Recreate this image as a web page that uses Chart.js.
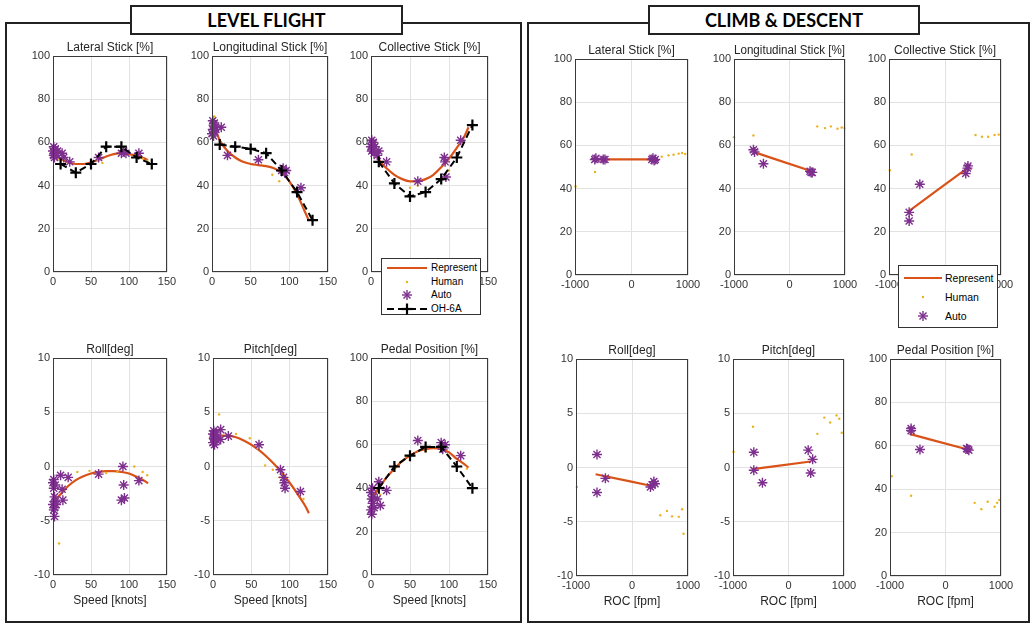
<!DOCTYPE html>
<html>
<head>
<meta charset="utf-8">
<script src="https://cdn.jsdelivr.net/npm/chart.js@4.4.1/dist/chart.umd.min.js"></script>
<style>
  body { margin: 0; background: #fff; width: 1034px; height: 624px; position: relative; overflow: hidden; font-family: "Liberation Sans", Arial, sans-serif; }
  .panel { position: absolute; border: 2px solid #222; box-sizing: border-box; }
  .ptitle { position: absolute; border: 2px solid #222; background: #fff; box-sizing: border-box; font-family: Lato, "Open Sans", sans-serif; font-weight: bold; font-size: 18px; text-align: center; line-height: 26px; color: #000; z-index: 3; }
  .plot { position: absolute; }
  .legend { position: absolute; background: #fff; border: 1px solid #333; box-sizing: border-box; z-index: 4; font-size: 10px; color: #000; }
  .legend .row { position: absolute; left: 0; right: 0; height: 14px; }
  .legend svg { position: absolute; left: 4px; top: 0; }
  .legend span { position: absolute; top: 1px; }
</style>
</head>
<body>
<div class="panel" style="left:5px;top:22px;width:517px;height:601px"></div>
<div class="panel" style="left:527px;top:22px;width:503px;height:601px"></div>
<div class="ptitle" style="left:130px;top:5px;width:273px;height:30px">LEVEL FLIGHT</div>
<div class="ptitle" style="left:648px;top:5px;width:272px;height:30px">CLIMB &amp; DESCENT</div>

<div class="legend" style="left:381px;top:258px;width:100px;height:57px">
  <div class="row" style="top:2px"><svg width="42" height="14"><line x1="1" y1="7" x2="41" y2="7" stroke="#D95319" stroke-width="2"/></svg><span style="left:49px">Represent</span></div>
  <div class="row" style="top:16px"><svg width="42" height="14"><circle cx="21" cy="7" r="1.2" fill="#EDB120"/></svg><span style="left:49px">Human</span></div>
  <div class="row" style="top:29px"><svg width="42" height="14"><g stroke="#7E2F8E" stroke-width="1.4"><line x1="16" y1="7" x2="26" y2="7"/><line x1="21" y1="2" x2="21" y2="12"/><line x1="17.5" y1="3.5" x2="24.5" y2="10.5"/><line x1="17.5" y1="10.5" x2="24.5" y2="3.5"/></g></svg><span style="left:49px">Auto</span></div>
  <div class="row" style="top:43px"><svg width="42" height="14"><line x1="1" y1="7" x2="41" y2="7" stroke="#000" stroke-width="2" stroke-dasharray="7 4"/><g stroke="#000" stroke-width="2.2"><line x1="15.5" y1="7" x2="26.5" y2="7"/><line x1="21" y1="1.5" x2="21" y2="12.5"/></g></svg><span style="left:49px">OH-6A</span></div>
</div>

<div class="legend" style="left:898px;top:265px;width:100px;height:63px;font-size:10.5px">
  <div class="row" style="top:5px"><svg width="42" height="14"><line x1="1" y1="7" x2="39" y2="7" stroke="#D95319" stroke-width="2"/></svg><span style="left:46px">Represent</span></div>
  <div class="row" style="top:24px"><svg width="42" height="14"><circle cx="20" cy="7" r="1.2" fill="#EDB120"/></svg><span style="left:46px">Human</span></div>
  <div class="row" style="top:43px"><svg width="42" height="14"><g stroke="#7E2F8E" stroke-width="1.4"><line x1="15" y1="7" x2="25" y2="7"/><line x1="20" y1="2" x2="20" y2="12"/><line x1="16.5" y1="3.5" x2="23.5" y2="10.5"/><line x1="16.5" y1="10.5" x2="23.5" y2="3.5"/></g></svg><span style="left:46px">Auto</span></div>
</div>

<script>
// ---- level flight: OH-6A flight test
const speedOH = [10, 30, 50, 70, 90, 110, 130];
const latOH = [50, 46, 50, 58, 58, 53, 50];
const lonOH = [59, 58, 57, 55, 47, 37, 24];
const colOH = [51, 41, 35, 37, 43, 53, 68];
const pedOH = [40, 50, 55, 59, 59, 50, 40];

// ---- level flight: represent fits
const speedFit = [0, 10, 20, 30, 40, 50, 60, 70, 80, 90, 100, 110, 120, 125];
const latRep = [55, 52.5, 50.8, 50, 50, 50.8, 52, 53.5, 54.6, 55, 54.6, 53.8, 52.6, 51.8];
const lonRep = [71, 61, 56, 53, 51, 50, 49.5, 49, 48, 46, 42, 36, 28, 24];
const colRep = [60, 52, 48, 45, 43, 42, 42, 43, 45, 48.5, 52.5, 57.5, 63, 67];
const rollRep = [-3.2, -2.55, -1.8, -1.25, -0.9, -0.65, -0.5, -0.42, -0.42, -0.5, -0.65, -0.95, -1.3, -1.55];
const pitchRep = [2.7, 2.85, 2.85, 2.7, 2.4, 2.0, 1.5, 0.9, 0.2, -0.6, -1.5, -2.5, -3.6, -4.3];
const pedRep = [35, 40, 45, 49, 52.5, 55, 57, 58, 58.5, 58, 56.5, 53.5, 51, 49.5];

// ---- level flight: auto pilot runs
const latAutoX = [0, 1, 1, 2, 2, 3, 4, 5, 6, 12, 14, 22, 60, 90, 93, 96, 113];
const latAutoY = [56, 58, 54, 55, 53, 57, 55, 54, 56, 55, 53, 51, 53, 55, 56, 55, 55];
const lonAutoX = [0, 1, 1, 2, 2, 3, 3, 4, 5, 12, 20, 60, 90, 92, 94, 96, 115];
const lonAutoY = [64, 70, 66, 68, 63, 69, 65, 67, 66, 67, 54, 52, 47, 48, 46, 47, 39];
const colAutoX = [0, 1, 1, 2, 2, 3, 4, 5, 8, 10, 20, 60, 94, 95, 96, 115];
const colAutoY = [58, 61, 56, 59, 57, 60, 55, 58, 54, 56, 51, 42, 53, 51, 44, 61];
const rollAutoX = [0, 0, 1, 1, 1, 2, 2, 2, 3, 3, 4, 10, 12, 13, 20, 60, 90, 92, 93, 94, 113];
const rollAutoY = [-1.5, -3.5, -2, -4, -1.2, -2.8, -3.8, -4.6, -3.2, -1.7, -3.5, -0.8, -2.1, -3.1, -1, -0.7, -3.1, 0, -1.7, -2.9, -1.3];
const pitchAutoX = [0, 0, 1, 1, 2, 2, 3, 3, 4, 5, 10, 10, 20, 60, 88, 92, 93, 94, 114];
const pitchAutoY = [2.2, 3, 2.6, 3.3, 2, 2.9, 2.5, 3.1, 2.7, 2.4, 3.4, 2.5, 2.8, 2, -0.3, -1, -1.5, -2, -2.3];
const pedAutoX = [0, 0, 1, 1, 2, 2, 3, 4, 8, 10, 12, 20, 60, 90, 92, 95, 115];
const pedAutoY = [30, 38, 28, 35, 33, 40, 36, 31, 35, 43, 32, 39, 62, 61, 58, 60, 55];

// ---- level flight: human pilot runs
const latHumX = [2, 6, 20, 58, 65, 100, 118, 124];
const latHumY = [53, 52, 51, 52, 50.5, 55, 52.5, 51.5];
const lonHumX = [3, 78, 87, 96, 120];
const lonHumY = [72, 45, 42, 46, 30];
const colHumX = [5, 50, 60, 100, 118];
const colHumY = [57, 39, 40, 47, 60];
const rollHumX = [8, 32, 48, 70, 85, 107, 118, 124];
const rollHumY = [-7.1, -0.5, -0.4, -0.6, -0.5, 0, -0.5, -0.8];
const pitchHumX = [8, 30, 48, 58, 68, 78, 87, 118];
const pitchHumY = [4.8, 3, 2.6, 1.7, 0.1, -0.3, -1, -3];
const pedHumX = [12, 50, 70, 100, 123];
const pedHumY = [37, 54, 57, 55, 49];

// ---- climb & descent: represent fits
const rocFit = [-650, 400];
const latCDRep = [53.5, 53.5];
const lonCDRep = [57, 48];
const colCDRep = [29.5, 49.5];
const rollCDRep = [-0.62, -1.75];
const pitchCDRep = [-0.15, 0.55];
const pedCDRep = [65.5, 58.3];

// ---- climb & descent: auto pilot runs
const latCDAutoX = [-650, -630, -500, -470, 360, 380, 400, 420];
const latCDAutoY = [53.5, 54, 53.5, 53.5, 53.5, 54, 53, 53.5];
const lonCDAutoX = [-650, -630, -470, 370, 390, 410];
const lonCDAutoY = [58, 57, 51.5, 48, 47.5, 47.5];
const colCDAutoX = [-640, -640, -450, 370, 400, 410];
const colCDAutoY = [29, 25, 42, 47, 49.5, 50.5];
const rollCDAutoX = [-625, -625, -475, 330, 360, 390, 410];
const rollCDAutoY = [1.2, -2.3, -1, -1.8, -1.6, -1.3, -1.5];
const pitchCDAutoX = [-625, -625, -470, 355, 400, 435];
const pitchCDAutoY = [1.4, -0.25, -1.4, 1.6, -0.5, 0.75];
const pedCDAutoX = [-620, -620, -460, 380, 400, 420];
const pedCDAutoY = [67, 68, 58.3, 58.7, 58.5, 58];

// ---- climb & descent: human pilot runs
const latCDHumX = [-990, -645, 535, 655, 745, 835, 895, 950];
const latCDHumY = [41, 47.7, 54.8, 55.4, 55.7, 56.2, 56.5, 56];
const lonCDHumX = [-1000, -650, 500, 640, 745, 865, 940, 990];
const lonCDHumY = [63.8, 64.6, 68.8, 68, 68.8, 67.7, 68.3, 68];
const colCDHumX = [-985, -595, 545, 660, 770, 885, 960];
const colCDHumY = [48.5, 55.8, 64.8, 64, 64, 64.8, 65];
const rollCDHumX = [-985, 505, 625, 715, 835, 895, 920];
const rollCDHumY = [-1.8, -4.4, -4, -4.5, -4.55, -3.85, -6.1];
const pitchCDHumX = [-990, -640, 520, 645, 750, 865, 915, 960];
const pitchCDHumY = [1.45, 3.75, 3.1, 4.6, 4.15, 4.8, 4.5, 3.2];
const pedCDHumX = [-970, -620, 525, 645, 760, 885, 930, 970];
const pedCDHumY = [46, 37, 33.7, 30.8, 34.2, 31.9, 33.7, 35];

const FONT = '"Liberation Sans", Arial, sans-serif';
const Y_W = 34, TITLE_H = 20, RIGHT_PAD = 16;

function pts(xs, ys) {
  return xs.map((x, i) => ({ x: x, y: ys[i] }));
}

// markers are not clipped at the axes edge (matlab style)
function ohSet(ys) {
  return { label: 'OH-6A', data: pts(speedOH, ys), showLine: true, borderColor: '#000', borderWidth: 2, clip: false,
    borderDash: [7, 4], pointStyle: 'cross', pointRadius: 5.5, pointBorderWidth: 2.2, pointBorderColor: '#000' };
}
function autoSet(xs, ys) {
  return { label: 'Auto', data: pts(xs, ys), pointStyle: 'star', pointRadius: 5, pointBorderWidth: 1.4, clip: false,
    pointBorderColor: '#7E2F8E', borderColor: '#7E2F8E', backgroundColor: '#7E2F8E' };
}
function humanSet(xs, ys) {
  return { label: 'Human', data: pts(xs, ys), pointStyle: 'circle', pointRadius: 1.2, pointBorderWidth: 0, clip: false,
    backgroundColor: '#EDB120', borderColor: '#EDB120' };
}
function repSet(xs, ys) {
  return { label: 'Represent', data: pts(xs, ys), showLine: true, borderColor: '#D95319', borderWidth: 2.2,
    pointRadius: 0, cubicInterpolationMode: 'monotone' };
}

// box around each axes, like matlab "box on"
const frame = {
  id: 'frame',
  afterDatasetsDraw(chart) {
    const a = chart.chartArea, ctx = chart.ctx;
    ctx.save();
    ctx.strokeStyle = '#3a3a3a';
    ctx.lineWidth = 1;
    ctx.strokeRect(Math.round(a.left) + 0.5, Math.round(a.top) + 0.5, Math.round(a.width) - 1, Math.round(a.height) - 1);
    ctx.restore();
  }
};

const plots = [
  { box: [53, 56, 114, 216], title: 'Lateral Stick [%]', roc: false, y: [0, 100, 20],
    sets: [ohSet(latOH), autoSet(latAutoX, latAutoY), humanSet(latHumX, latHumY), repSet(speedFit, latRep)] },
  { box: [212, 56, 116, 216], title: 'Longitudinal Stick [%]', roc: false, y: [0, 100, 20],
    sets: [ohSet(lonOH), autoSet(lonAutoX, lonAutoY), humanSet(lonHumX, lonHumY), repSet(speedFit, lonRep)] },
  { box: [371, 56, 117, 216], title: 'Collective Stick [%]', roc: false, y: [0, 100, 20],
    sets: [ohSet(colOH), autoSet(colAutoX, colAutoY), humanSet(colHumX, colHumY), repSet(speedFit, colRep)] },
  { box: [53, 358, 114, 217], title: 'Roll[deg]', roc: false, y: [-10, 10, 5], xTitle: 'Speed [knots]',
    sets: [autoSet(rollAutoX, rollAutoY), humanSet(rollHumX, rollHumY), repSet(speedFit, rollRep)] },
  { box: [213, 358, 115, 217], title: 'Pitch[deg]', roc: false, y: [-10, 10, 5], xTitle: 'Speed [knots]',
    sets: [autoSet(pitchAutoX, pitchAutoY), humanSet(pitchHumX, pitchHumY), repSet(speedFit, pitchRep)] },
  { box: [371, 358, 117, 217], title: 'Pedal Position [%]', roc: false, y: [0, 100, 20], xTitle: 'Speed [knots]',
    sets: [ohSet(pedOH), autoSet(pedAutoX, pedAutoY), humanSet(pedHumX, pedHumY), repSet(speedFit, pedRep)] },

  { box: [575, 59, 113, 216], title: 'Lateral Stick [%]', roc: true, y: [0, 100, 20],
    sets: [autoSet(latCDAutoX, latCDAutoY), humanSet(latCDHumX, latCDHumY), repSet(rocFit, latCDRep)] },
  { box: [734, 59, 111, 216], title: 'Longitudinal Stick [%]', roc: true, y: [0, 100, 20],
    sets: [autoSet(lonCDAutoX, lonCDAutoY), humanSet(lonCDHumX, lonCDHumY), repSet(rocFit, lonCDRep)] },
  { box: [889, 59, 112, 216], title: 'Collective Stick [%]', roc: true, y: [0, 100, 20],
    sets: [autoSet(colCDAutoX, colCDAutoY), humanSet(colCDHumX, colCDHumY), repSet(rocFit, colCDRep)] },
  { box: [576, 359, 112, 217], title: 'Roll[deg]', roc: true, y: [-10, 10, 5], xTitle: 'ROC [fpm]',
    sets: [autoSet(rollCDAutoX, rollCDAutoY), humanSet(rollCDHumX, rollCDHumY), repSet(rocFit, rollCDRep)] },
  { box: [733, 359, 111, 217], title: 'Pitch[deg]', roc: true, y: [-10, 10, 5], xTitle: 'ROC [fpm]',
    sets: [autoSet(pitchCDAutoX, pitchCDAutoY), humanSet(pitchCDHumX, pitchCDHumY), repSet(rocFit, pitchCDRep)] },
  { box: [890, 359, 111, 217], title: 'Pedal Position [%]', roc: true, y: [0, 100, 20], xTitle: 'ROC [fpm]',
    sets: [autoSet(pedCDAutoX, pedCDAutoY), humanSet(pedCDHumX, pedCDHumY), repSet(rocFit, pedCDRep)] }
];

plots.forEach((p) => {
  const [L, T, W, H] = p.box;
  const xH = p.xTitle ? 40 : 18;
  const canvas = document.createElement('canvas');
  canvas.className = 'plot';
  canvas.width = W + Y_W + RIGHT_PAD;
  canvas.height = H + TITLE_H + xH;
  canvas.style.left = (L - Y_W) + 'px';
  canvas.style.top = (T - TITLE_H) + 'px';
  document.body.appendChild(canvas);

  const tickFont = { family: FONT, size: 11 };
  new Chart(canvas.getContext('2d'), {
    type: 'scatter',
    data: { datasets: p.sets },
    options: {
      responsive: false,
      animation: false,
      events: [],
      layout: { padding: { top: 0, right: RIGHT_PAD, bottom: 0, left: 0 } },
      plugins: {
        legend: { display: false },
        tooltip: { enabled: false },
        title: {
          display: true, text: p.title, fullSize: false, color: '#262626',
          font: { family: FONT, size: 12, weight: 'normal', lineHeight: 1 },
          padding: { top: 6, bottom: 2 }
        }
      },
      scales: {
        x: {
          type: 'linear',
          min: p.roc ? -1000 : 0, max: p.roc ? 1000 : 150,
          ticks: { stepSize: p.roc ? 1000 : 50, font: tickFont, color: '#333', padding: 3, maxRotation: 0, autoSkip: false,
            callback: (v) => String(v) },
          grid: { color: '#e2e2e2', drawTicks: false },
          border: { display: false },
          title: {
            display: !!p.xTitle, text: p.xTitle || '', color: '#262626',
            font: { family: FONT, size: 12 }, padding: { top: 4, bottom: 7 }
          },
          afterFit: (s) => { s.height = xH; }
        },
        y: {
          min: p.y[0], max: p.y[1],
          ticks: { stepSize: p.y[2], font: tickFont, color: '#333', padding: 3 },
          grid: { color: '#e2e2e2', drawTicks: false },
          border: { display: false },
          afterFit: (s) => { s.width = Y_W; }
        }
      }
    },
    plugins: [frame]
  });
});
</script>
</body>
</html>
